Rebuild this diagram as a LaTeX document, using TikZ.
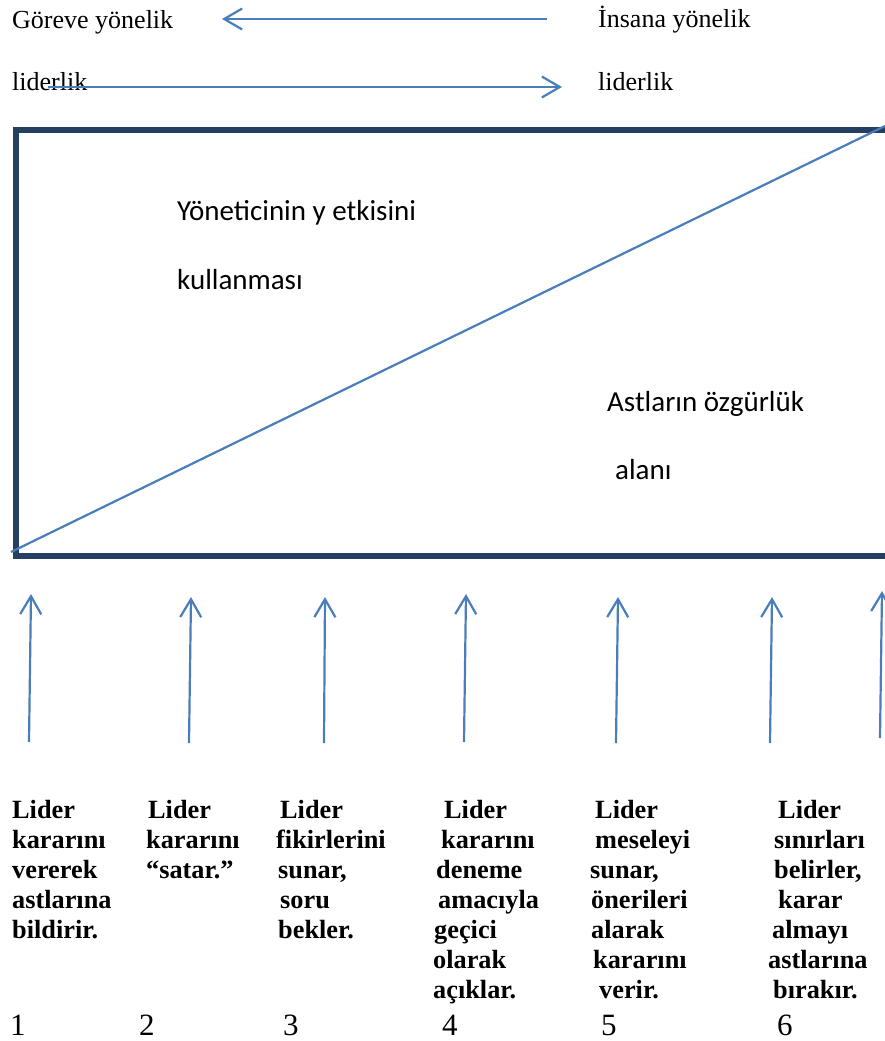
\documentclass[tikz,border=0pt]{standalone}
\usepackage{fontspec}
\setmainfont{Liberation Serif}
\newfontfamily\calfont{Carlito}
\usetikzlibrary{arrows.meta}
\definecolor{linkblue}{RGB}{74,126,187}
\definecolor{framenavy}{RGB}{36,63,96}
\newcommand\colline[3]{\node[bold] (#1) at (#2) {#3};}
\begin{document}
\begin{tikzpicture}[x=1pt,y=-1pt,
  txt/.style={inner sep=0pt, anchor=base west, font=\fontsize{26}{30}\selectfont},
  bold/.style={inner sep=0pt, anchor=base west, font=\fontsize{26.3}{30}\selectfont\bfseries},
  num/.style={inner sep=0pt, anchor=base west, font=\fontsize{31}{34}\selectfont},
  boxtxt/.style={inner sep=0pt, anchor=base west, font=\calfont\fontsize{29}{34}\selectfont},
  flow/.style={draw=linkblue, line width=2.2pt, -{Straight Barb[length=18pt,width=21pt]}},
  ]
\useasboundingbox (0,0) rectangle (885,1041);
\clip (0,0) rectangle (885,1041);

% orientation labels and arrows
\node[txt] (task) at (12,29) {Göreve yönelik};
\node[txt] (people) at (598,28) {İnsana yönelik};
\node[txt] (taskL) at (12,90) {liderlik};
\node[txt] (peopleL) at (598,90) {liderlik};
\coordinate (a1s) at (547,19);
\coordinate (a1e) at (222,19);
\coordinate (a2s) at (48,87);
\coordinate (a2e) at (562,87);
\draw[flow] (a1s) -- (a1e);
\draw[flow] (a2s) -- (a2e);

% frame split by the diagonal
\coordinate (bl) at (16,556);
\coordinate (tr) at (905,130);
\draw[framenavy, line width=5.5pt, fill=white] (bl) rectangle (tr);
\coordinate (ds) at (11,552);
\coordinate (de) at (885,126);
\draw[linkblue, line width=2.2pt] (ds) -- (de);

\node[boxtxt] (mgr1) at (177,220) {Yöneticinin y etkisini};
\node[boxtxt] (mgr2) at (177,289) {kullanması};
\node[boxtxt] (sub1) at (607,411) {Astların özgürlük};
\node[boxtxt] (sub2) at (615,479) {alanı};

% upward arrows
\foreach \i/\xs/\ys/\xe/\ye in {1/29/742/31/594, 2/189/743/191/597, 3/324/743/325/597,
  4/464/742/466/594, 5/616/743/618/597, 6/770/743/772/597, 7/880/738/882/591}{
  \coordinate (u\i s) at (\xs,\ys);
  \coordinate (u\i e) at (\xe,\ye);
  \draw[flow] (u\i s) -- (u\i e);
}

% column 1
\colline{c1a}{12,818}{Lider}
\colline{c1b}{12,848}{kararını}
\colline{c1c}{12,878}{vererek}
\colline{c1d}{12,908}{astlarına}
\colline{c1e}{12,938}{bildirir.}
% column 2
\colline{c2a}{148,818}{Lider}
\colline{c2b}{146,848}{kararını}
\colline{c2c}{146,878}{“satar.”}
% column 3
\colline{c3a}{280,818}{Lider}
\colline{c3b}{276,848}{fikirlerini}
\colline{c3c}{278,878}{sunar,}
\colline{c3d}{280,908}{soru}
\colline{c3e}{278,938}{bekler.}
% column 4
\colline{c4a}{444,818}{Lider}
\colline{c4b}{441,848}{kararını}
\colline{c4c}{436,878}{deneme}
\colline{c4d}{438,908}{amacıyla}
\colline{c4e}{434,938}{geçici}
\colline{c4f}{433,968}{olarak}
\colline{c4g}{433,998}{açıklar.}
% column 5
\colline{c5a}{595,818}{Lider}
\colline{c5b}{595,848}{meseleyi}
\colline{c5c}{590,878}{sunar,}
\colline{c5d}{591,908}{önerileri}
\colline{c5e}{591,938}{alarak}
\colline{c5f}{593,968}{kararını}
\colline{c5g}{599,998}{verir.}
% column 6
\colline{c6a}{778,818}{Lider}
\colline{c6b}{774,848}{sınırları}
\colline{c6c}{774,878}{belirler,}
\colline{c6d}{778,908}{karar}
\colline{c6e}{772,938}{almayı}
\colline{c6f}{768,968}{astlarına}
\colline{c6g}{773,998}{bırakır.}

% numbering
\node[num] (n1) at (10,1035) {1};
\node[num] (n2) at (139,1035) {2};
\node[num] (n3) at (283,1035) {3};
\node[num] (n4) at (442,1035) {4};
\node[num] (n5) at (601,1035) {5};
\node[num] (n6) at (777,1035) {6};
\end{tikzpicture}
\end{document}
